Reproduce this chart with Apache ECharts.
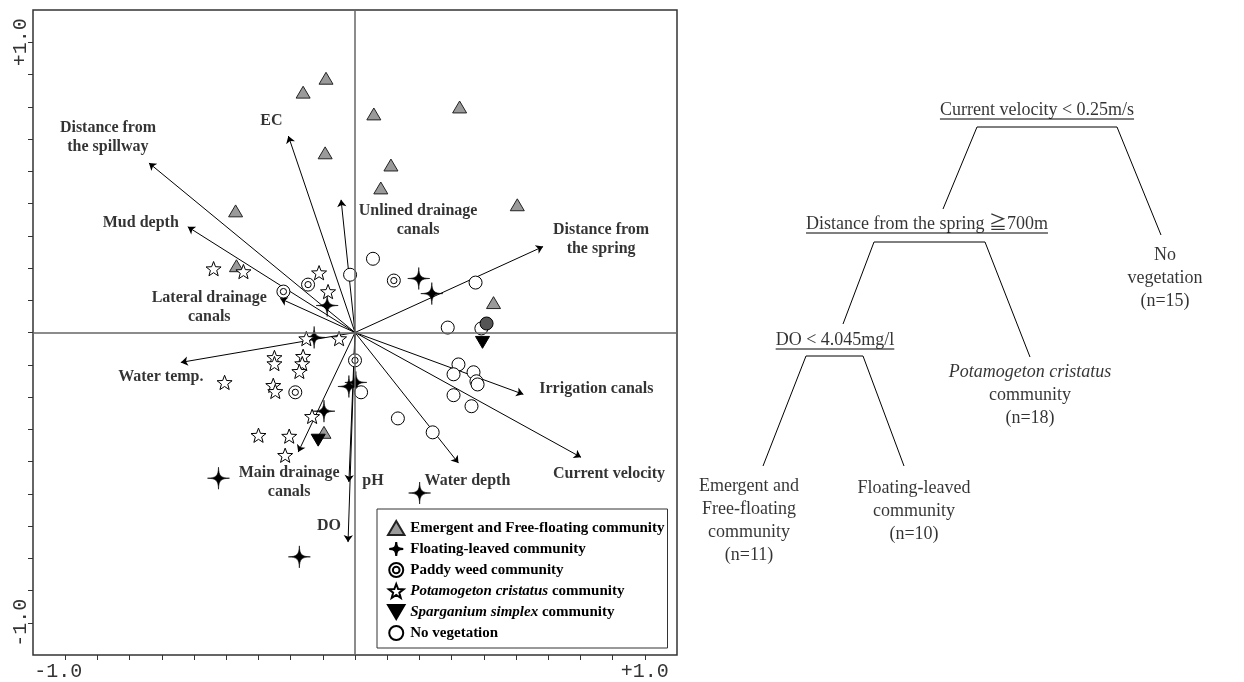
<!DOCTYPE html>
<html><head><meta charset="utf-8">
<script src="https://cdn.jsdelivr.net/npm/echarts@6/dist/echarts.min.js"></script>
<style>html,body{margin:0;padding:0;background:#fff}#c{width:1244px;height:682px}</style>
</head><body><div id="c"></div>
<script>
// ---------- DATA (CCA ordination scores) ----------
const emergent = [[-0.100,0.876],[-0.179,0.828],[-0.103,0.619],[0.065,0.753],[0.361,0.777],[0.124,0.577],[0.089,0.498],[-0.412,0.419],[0.560,0.440],[0.478,0.103],[-0.409,0.230],[-0.107,-0.344]];
const floatingLeaved = [[0.220,0.186],[0.265,0.134],[-0.096,0.093],[-0.141,-0.017],[-0.107,-0.271],[-0.021,-0.186],[0.003,-0.172],[-0.471,-0.502],[0.223,-0.553],[-0.192,-0.773]];
const paddyWeed = [[-0.162,0.165],[-0.247,0.141],[0.134,0.179],[0.000,-0.096],[-0.206,-0.206]];
const potamogeton = [[-0.488,0.220],[-0.385,0.210],[-0.124,0.206],[-0.093,0.141],[-0.168,-0.021],[-0.055,-0.021],[-0.278,-0.086],[-0.278,-0.107],[-0.179,-0.082],[-0.182,-0.107],[-0.192,-0.134],[-0.450,-0.172],[-0.282,-0.182],[-0.275,-0.203],[-0.148,-0.289],[-0.333,-0.354],[-0.227,-0.357],[-0.241,-0.423]];
const sparganium = [[0.440,-0.034],[-0.127,-0.371]];
const noVegetation = [[0.062,0.254],[-0.017,0.199],[0.416,0.172],[0.320,0.017],[0.436,0.014],[0.357,-0.110],[0.340,-0.144],[0.409,-0.137],[0.419,-0.168],[0.423,-0.179],[0.340,-0.216],[0.402,-0.254],[0.148,-0.296],[0.268,-0.344],[0.021,-0.206]];
const unlabelledSite = [[0.454,0.031]];

const envNames = ['Distance from\nthe spillway','EC','Unlined drainage\ncanals','Mud depth','Lateral drainage\ncanals','Distance from\nthe spring','Water temp.','Main drainage\ncanals','pH','DO','Irrigation canals','Current velocity','Water depth'];
const envVectors = [[-0.711,0.584],[-0.230,0.677],[-0.048,0.457],[-0.577,0.364],[-0.258,0.117],[0.649,0.296],[-0.601,-0.103],[-0.196,-0.412],[-0.021,-0.515],[-0.024,-0.722],[0.581,-0.213],[0.780,-0.430],[0.357,-0.450]];

const tickLabelValues = [-1, 1];
const tickLabels = ['-1.0', '+1.0'];

const seriesNames = ['Emergent and Free-floating community','Floating-leaved community','Paddy weed community','Potamogeton cristatus community','Sparganium simplex community','No vegetation'];

// decision tree texts
const treeSplits = ['Current velocity < 0.25m/s','Distance from the spring \u2267700m','DO < 4.045mg/l'];
const treeLeaves = ['No\nvegetation\n(n=15)','{i|Potamogeton cristatus}\ncommunity\n(n=18)','Emergent and\nFree-floating\ncommunity\n(n=11)','Floating-leaved\ncommunity\n(n=10)'];

// ---------- LAYOUT (pixel positions of the tree diagram, label offsets) ----------
const envLabelOffsets = [[-41,-26],[-17,-15],[77,21],[-47,-4],[-71,9],[58,-7],[-20,14],[-9,30],[24,-1],[-19,-16],[73,-5],[28,17],[9,18]];
const splitPos = [[1037,110],[927,224],[835,340]];
const leafPos = [[1165,278],[1030,395],[749,521],[914,511]];
const treeLinks = [
  [[943,209],[977,127],[1117,127],[1161,235]],
  [[843,324],[874,242],[985,242],[1030,357]],
  [[763,466],[806,356],[863,356],[904,466]]
];

const SERIF = '"Liberation Serif","Times New Roman","Noto Sans CJK JP",serif';
const MONO = '"Liberation Mono","Courier New",monospace';

const STAR5 = 'path://M0,-10L2.47,-3.4L9.51,-3.09L3.99,1.3L5.88,8.09L0,4.2L-5.88,8.09L-3.99,1.3L-9.51,-3.09L-2.47,-3.4Z';
const STAR4 = 'path://M0,-10C0.3,-2 2,-0.3 10,0C2,0.3 0.3,2 0,10C-0.3,2 -2,0.3 -10,0C-2,-0.3 -0.3,-2 0,-10Z';
const DCIRC = 'path://M-10,0A10,10 0 1,0 10,0A10,10 0 1,0 -10,0ZM-4.8,0A4.8,4.8 0 1,0 4.8,0A4.8,4.8 0 1,0 -4.8,0Z';
const UTRI = 'path://M0,-9L10,8L-10,8Z';
const DTRI = 'path://M-10,-8L10,-8L0,9Z';

// measure split texts for underline
const mctx = document.createElement('canvas').getContext('2d');
mctx.font = '18px ' + SERIF;
const underlines = treeSplits.map((t,i)=>{
  const w = mctx.measureText(t).width;
  const [cx,cy] = splitPos[i];
  return [[cx - w/2, cy + 9],[cx + w/2, cy + 9]];
});

const R = 1.1111, STEP = 0.11111;
function tickFmt(v){
  for (let i=0;i<tickLabelValues.length;i++) if (Math.abs(v - tickLabelValues[i]) < 0.01) return tickLabels[i];
  return '';
}
function xTickFmt(v){
  const t = tickFmt(v);
  return v < 0 && t ? '{m|' + t + '}' : t;
}

const chart = echarts.init(document.getElementById('c'), null, {renderer:'canvas'});
const mk = (name, data, symbol, size, itemStyle) => ({
  name, type:'scatter', data, symbol, symbolSize:size, symbolKeepAspect:true,
  xAxisIndex:0, yAxisIndex:0, z:3,
  itemStyle:Object.assign({borderColor:'#000', borderWidth:1, opacity:1}, itemStyle),
  emphasis:{disabled:true}
});

const option = {
  animation:false,
  backgroundColor:'#fff',
  grid:[
    {left:33, top:10, width:644, height:646, show:true, borderColor:'#333', borderWidth:1.5, backgroundColor:'transparent'},
    {left:680, top:0, width:564, height:682, show:false}
  ],
  xAxis:[
    {type:'value', gridIndex:0, min:-R, max:R, interval:STEP, position:'bottom',
      axisLine:{show:false, onZero:false}, splitLine:{show:false},
      axisTick:{show:true, length:5, lineStyle:{color:'#333', width:1}},
      axisLabel:{formatter:xTickFmt, fontFamily:MONO, fontSize:20, color:'#333', margin:7, showMinLabel:false, showMaxLabel:false,
        rich:{m:{fontFamily:MONO, fontSize:20, color:'#333', padding:[0,14,0,0]}}}},
    {type:'value', gridIndex:1, min:680, max:1244, show:false}
  ],
  yAxis:[
    {type:'value', gridIndex:0, min:-R, max:R, interval:STEP, position:'left',
      axisLine:{show:false, onZero:false}, splitLine:{show:false},
      axisTick:{show:true, length:5, lineStyle:{color:'#333', width:1}},
      axisLabel:{formatter:tickFmt, fontFamily:MONO, fontSize:20, color:'#333', rotate:90, margin:2, showMinLabel:false, showMaxLabel:false}},
    {type:'value', gridIndex:1, min:0, max:682, inverse:true, show:false}
  ],
  legend:{
    data:seriesNames, orient:'vertical', left:377, top:509,
    backgroundColor:'#fff', borderColor:'#333', borderWidth:1,
    padding:[11,3,7,10], itemWidth:18, itemHeight:14, itemGap:5,
    textStyle:{fontFamily:SERIF, fontWeight:'bold', fontSize:15, color:'#000', lineHeight:14,
      rich:{i:{fontFamily:SERIF, fontStyle:'italic', fontWeight:'bold', fontSize:15, color:'#000'},
            b:{fontFamily:SERIF, fontWeight:'bold', fontSize:15, color:'#000'}}},
    formatter:name=>{
      if (name.indexOf('Potamogeton cristatus')===0) return '{i|Potamogeton cristatus}{b| community}';
      if (name.indexOf('Sparganium simplex')===0) return '{i|Sparganium simplex}{b| community}';
      return name;
    },
    selectedMode:false, z:10
  },
  series:[
    // zero lines + environmental labels
    {type:'scatter', name:'envLabels', xAxisIndex:0, yAxisIndex:0, symbolSize:0, z:4, silent:true,
      data:envVectors.map((v,i)=>({value:v, label:{show:true, formatter:envNames[i], offset:envLabelOffsets[i]}})),
      label:{position:'inside', color:'#000', fontFamily:SERIF, fontWeight:'bold', fontSize:16, lineHeight:19, align:'center', verticalAlign:'middle'},
      markLine:{silent:true, symbol:['none','none'], label:{show:false}, animation:false,
        lineStyle:{color:'#666', type:'solid', width:1.5},
        data:[{xAxis:0},{yAxis:0}]}
    },
    // arrows
    {type:'lines', name:'envArrows', coordinateSystem:'cartesian2d', xAxisIndex:0, yAxisIndex:0, z:2, silent:true,
      symbol:['none','arrow'], symbolSize:7,
      lineStyle:{color:'#000', width:1, opacity:1, curveness:0},
      data:envVectors.map(v=>({coords:[[0,0],v]}))},
    mk(seriesNames[0], emergent, UTRI, 14, {color:'#9a9a9a', borderColor:'#222'}),
    mk(seriesNames[1], floatingLeaved, STAR4, 22, {color:'#000', borderWidth:0.6}),
    mk(seriesNames[2], paddyWeed, DCIRC, 13, {color:'#fff'}),
    mk(seriesNames[3], potamogeton, STAR5, 15, {color:'#fff'}),
    mk(seriesNames[4], sparganium, DTRI, 14, {color:'#000'}),
    mk(seriesNames[5], noVegetation, 'circle', 13, {color:'#fff'}),
    mk('unlabelled', unlabelledSite, 'circle', 13, {color:'#555'}),
    // decision tree
    ...treeLinks.map((pts,i)=>({type:'line', name:'treeLink'+i, xAxisIndex:1, yAxisIndex:1, data:pts, symbol:'none', silent:true,
      lineStyle:{color:'#000', width:1}})),
    ...underlines.map((pts,i)=>({type:'line', name:'underline'+i, xAxisIndex:1, yAxisIndex:1, data:pts, symbol:'none', silent:true,
      lineStyle:{color:'#000', width:1}})),
    {type:'scatter', name:'treeText', xAxisIndex:1, yAxisIndex:1, symbolSize:0, silent:true,
      data:[...treeSplits.map((t,i)=>({value:splitPos[i], label:{formatter:t}})),
            ...treeLeaves.map((t,i)=>({value:leafPos[i], label:{formatter:t}}))],
      label:{show:true, position:'inside', color:'#000', fontFamily:SERIF, fontSize:18, lineHeight:23, align:'center', verticalAlign:'middle',
        rich:{i:{fontFamily:SERIF, fontStyle:'italic', fontSize:18, color:'#000', lineHeight:23}}}}
  ]
};
chart.setOption(option);
</script></body></html>
